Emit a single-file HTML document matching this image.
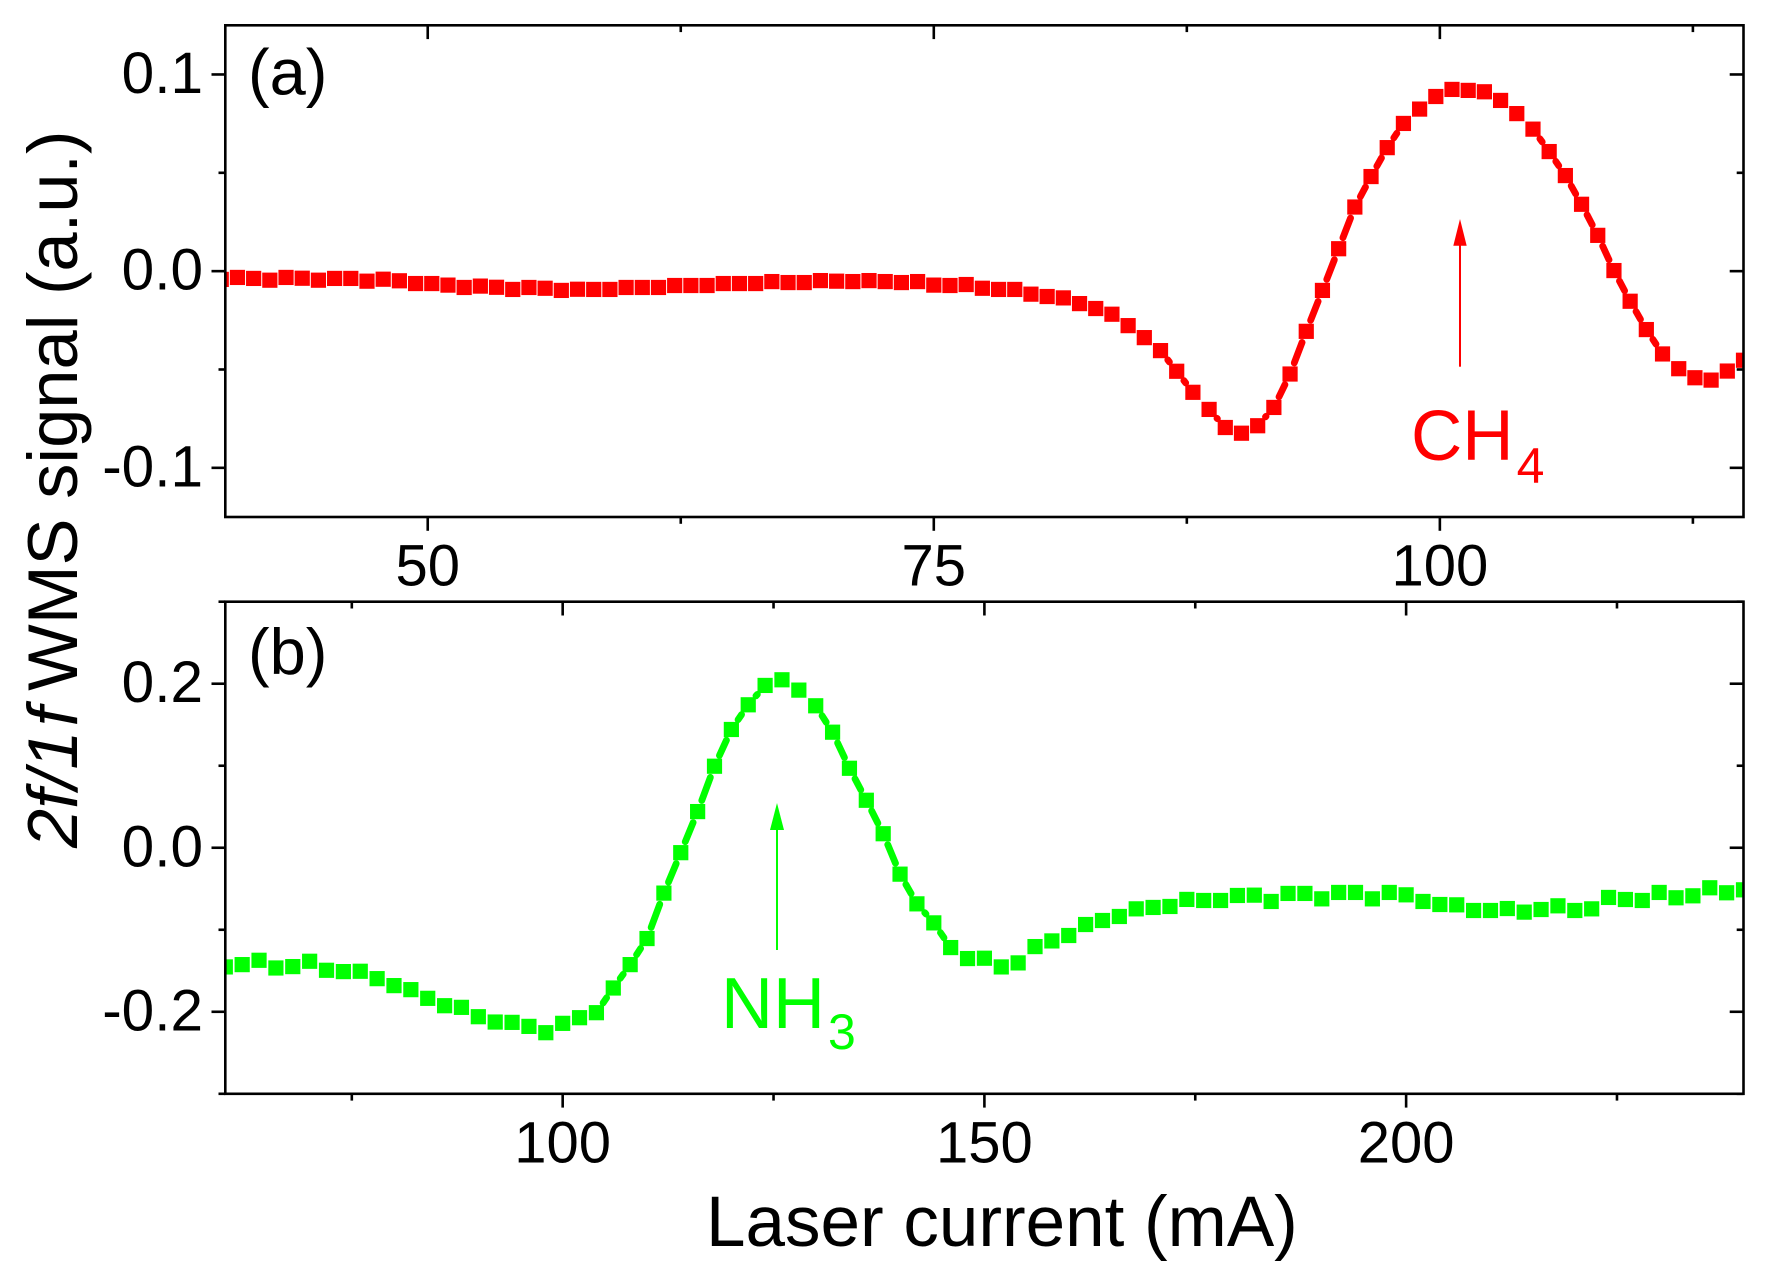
<!DOCTYPE html>
<html>
<head>
<meta charset="utf-8">
<title>2f/1f WMS signal versus laser current</title>
<style>
html,body{margin:0;padding:0;background:#fff;}
svg{display:block;}
text{font-family:"Liberation Sans",sans-serif;fill:#000;}
</style>
</head>
<body>
<svg id="chart" xmlns="http://www.w3.org/2000/svg" width="1768" height="1272" viewBox="0 0 1768 1272">
  <defs>
    <clipPath id="clip-a"><rect x="225.4" y="25.3" width="1518.1" height="491.7"/></clipPath>
    <clipPath id="clip-b"><rect x="225.2" y="601.7" width="1518.3" height="492.1"/></clipPath>
  </defs>
  <rect x="0" y="0" width="1768" height="1272" fill="#fff"/>
  <g id="panel-a"></g>
  <g id="panel-b"></g>

  <text x="248" y="94.7" font-size="65">(a)</text>
  <text x="248" y="674" font-size="65">(b)</text>

  <line x1="1460" y1="366.7" x2="1460" y2="240" stroke="#ff0000" stroke-width="2"/>
  <polygon points="1460,219 1466.7,245.7 1453.3,245.7" fill="#ff0000"/>
  <text x="1411" y="460" font-size="71" style="fill:#ff0000">CH<tspan dx="3" dy="23" font-size="50">4</tspan></text>

  <line x1="777" y1="950" x2="777" y2="825" stroke="#00ff00" stroke-width="2"/>
  <polygon points="777,803 784,830 770,830" fill="#00ff00"/>
  <text x="721" y="1027.8" font-size="72" style="fill:#00ff00">NH<tspan dx="3" dy="21" font-size="50">3</tspan></text>

  <text transform="translate(77 848) rotate(-90)" font-size="70.5"><tspan font-style="italic">2f/1<tspan dx="4">f</tspan></tspan><tspan dx="-3.5"> WMS signal (a.u.)</tspan></text>
  <text x="706" y="1246" font-size="71">Laser current (mA)</text>
</svg>

<script>
const currentA = [39.8,40.6,41.4,42.2,43,43.8,44.6,45.4,46.2,47,47.8,48.6,49.4,50.2,51,51.8,52.6,53.4,54.2,55,55.8,56.6,57.4,58.2,59,59.8,60.6,61.4,62.2,63,63.8,64.6,65.4,66.2,67,67.8,68.6,69.4,70.2,71,71.8,72.6,73.4,74.2,75,75.8,76.6,77.4,78.2,79,79.8,80.6,81.4,82.2,83,83.8,84.6,85.4,86.2,87,87.8,88.6,89.4,90.2,91,91.8,92.6,93.4,94.2,95,95.8,96.6,97.4,98.2,99,99.8,100.6,101.4,102.2,103,103.8,104.6,105.4,106.2,107,107.8,108.6,109.4,110.2,111,111.8,112.6,113.4,114.2,115];
const signalA = [-0.0042,-0.0032,-0.0037,-0.0046,-0.0032,-0.0036,-0.0046,-0.0037,-0.0037,-0.0051,-0.0041,-0.0049,-0.0063,-0.0063,-0.0071,-0.0083,-0.0076,-0.0082,-0.0093,-0.0083,-0.0087,-0.0098,-0.0092,-0.0093,-0.0093,-0.0083,-0.0083,-0.0083,-0.0073,-0.0073,-0.0073,-0.0063,-0.0063,-0.0063,-0.0053,-0.0058,-0.0058,-0.0048,-0.0051,-0.0053,-0.0048,-0.0053,-0.0058,-0.0053,-0.0071,-0.0073,-0.0068,-0.0087,-0.0093,-0.0093,-0.0117,-0.0129,-0.0136,-0.0165,-0.0190,-0.0219,-0.0277,-0.0338,-0.0404,-0.0509,-0.0616,-0.0703,-0.0795,-0.0824,-0.0786,-0.0693,-0.0523,-0.0306,-0.0098,0.0114,0.0326,0.0481,0.0628,0.0751,0.0824,0.0888,0.0924,0.0919,0.0912,0.0868,0.0801,0.0722,0.0608,0.0486,0.0340,0.0182,0.0003,-0.0153,-0.0297,-0.0421,-0.0496,-0.0542,-0.0554,-0.0508,-0.0453];
const currentB = [60,62,64,66,68,70,72,74,76,78,80,82,84,86,88,90,92,94,96,98,100,102,104,106,108,110,112,114,116,118,120,122,124,126,128,130,132,134,136,138,140,142,144,146,148,150,152,154,156,158,160,162,164,166,168,170,172,174,176,178,180,182,184,186,188,190,192,194,196,198,200,202,204,206,208,210,212,214,216,218,220,222,224,226,228,230,232,234,236,238,240];
const signalB = [-0.1453,-0.1425,-0.1372,-0.1466,-0.1449,-0.1384,-0.1494,-0.1510,-0.1506,-0.1596,-0.1681,-0.1730,-0.1836,-0.1926,-0.1946,-0.2060,-0.2125,-0.2129,-0.2178,-0.2255,-0.2141,-0.2072,-0.2011,-0.1710,-0.1425,-0.1107,-0.0553,-0.0060,0.0441,0.0994,0.1442,0.1743,0.1979,0.2048,0.1922,0.1731,0.1409,0.0969,0.0579,0.0171,-0.0322,-0.0684,-0.0916,-0.1217,-0.1351,-0.1347,-0.1453,-0.1404,-0.1205,-0.1136,-0.1070,-0.0936,-0.0887,-0.0838,-0.0745,-0.0728,-0.0716,-0.0630,-0.0643,-0.0643,-0.0582,-0.0578,-0.0655,-0.0557,-0.0557,-0.0623,-0.0545,-0.0545,-0.0623,-0.0545,-0.0574,-0.0655,-0.0692,-0.0696,-0.0765,-0.0765,-0.0741,-0.0785,-0.0753,-0.0708,-0.0765,-0.0745,-0.0606,-0.0631,-0.0643,-0.0545,-0.0610,-0.0586,-0.0488,-0.0549,-0.0513];

const xMajorA = [50,75,100];
const xMinorA = [62.5,87.5,112.5];
const yMajorA = [0.1,0,-0.1];
const yMinorA = [0.05,-0.05];
const xMajorLabelsA = ['50','75','100'];
const yMajorLabelsA = ['0.1','0.0','-0.1'];

const xMajorB = [100,150,200];
const xMinorB = [75,125,175,225];
const yMajorB = [0.2,0,-0.2];
const yMinorB = [0.3,0.1,-0.1,-0.3];
const xMajorLabelsB = ['100','150','200'];
const yMajorLabelsB = ['0.2','0.0','-0.2'];

const NS = 'http://www.w3.org/2000/svg';
const LEFT = 225.3, RIGHT = 1743.5;
const TOP_A = 25.3, BOTTOM_A = 517, TOP_B = 601.7, BOTTOM_B = 1093.8;

function scale(d0, d1, r0, r1) {
  return function (v) { return r0 + (v - d0) / (d1 - d0) * (r1 - r0); };
}
const xA = scale(40, 115, LEFT, RIGHT);
const yA = scale(-0.125, 0.125, BOTTOM_A, TOP_A);
const xB = scale(60, 240, LEFT, RIGHT);
const yB = scale(-0.3, 0.3, BOTTOM_B, TOP_B);

function make(tag, parent) {
  const el = document.createElementNS(NS, tag);
  parent.appendChild(el);
  return el;
}

function tickLine(parent, x1, y1, x2, y2) {
  const t = make('line', parent);
  t.setAttribute('x1', x1);
  t.setAttribute('y1', y1);
  t.setAttribute('x2', x2);
  t.setAttribute('y2', y2);
  t.setAttribute('stroke', '#000');
  t.setAttribute('stroke-width', '2.6');
  
  
}

function drawPanel(group, opt) {
  const MAJOR = 13.8, MINOR = 6.8;

  const series = make('g', group);
  series.setAttribute('clip-path', 'url(#' + opt.clip + ')');
  
  

  const GAP = 11.8;
  for (let i = 0; i + 1 < opt.xs.length; i++) {
    const ax = opt.x(opt.xs[i]), ay = opt.y(opt.ys[i]);
    const bx = opt.x(opt.xs[i + 1]), by = opt.y(opt.ys[i + 1]);
    const d = Math.hypot(bx - ax, by - ay);
    if (d <= 2 * GAP) continue;
    const ux = (bx - ax) / d, uy = (by - ay) / d;
    const seg = make('line', series);
    seg.setAttribute('x1', ax + ux * GAP);
    seg.setAttribute('y1', ay + uy * GAP);
    seg.setAttribute('x2', bx - ux * GAP);
    seg.setAttribute('y2', by - uy * GAP);
    seg.setAttribute('stroke', opt.color);
    seg.setAttribute('stroke-width', '6.8');
    seg.setAttribute('stroke-linecap', 'round');
    
    
  }

  const SIZE = 15.2;
  opt.xs.forEach(function (v, i) {
    const m = make('rect', series);
    m.setAttribute('x', opt.x(v) - SIZE / 2);
    m.setAttribute('y', opt.y(opt.ys[i]) - SIZE / 2);
    m.setAttribute('width', SIZE);
    m.setAttribute('height', SIZE);
    m.setAttribute('fill', opt.color);
    
    
  });

  const frame = make('rect', group);
  frame.setAttribute('x', LEFT);
  frame.setAttribute('y', opt.top);
  frame.setAttribute('width', RIGHT - LEFT);
  frame.setAttribute('height', opt.bottom - opt.top);
  frame.setAttribute('fill', 'none');
  frame.setAttribute('stroke', '#000');
  frame.setAttribute('stroke-width', '2.6');
  
  

  opt.xMajor.forEach(function (v, i) {
    const px = opt.x(v);
    tickLine(group, px, opt.top, px, opt.top + MAJOR);
    tickLine(group, px, opt.bottom, px, opt.bottom + MAJOR);
    const label = make('text', group);
    label.setAttribute('x', px);
    label.setAttribute('y', opt.xLabelY);
    label.setAttribute('font-size', '58');
    label.setAttribute('text-anchor', 'middle');
    
    
    label.textContent = opt.xLabels[i];
  });
  opt.xMinor.forEach(function (v) {
    const px = opt.x(v);
    tickLine(group, px, opt.top, px, opt.top + MINOR);
    tickLine(group, px, opt.bottom, px, opt.bottom + MINOR);
  });
  opt.yMajor.forEach(function (v, i) {
    const py = opt.y(v);
    tickLine(group, LEFT - MAJOR, py, LEFT, py);
    tickLine(group, RIGHT - MAJOR, py, RIGHT, py);
    const label = make('text', group);
    label.setAttribute('x', 203);
    label.setAttribute('y', py + 18.5);
    label.setAttribute('font-size', '58.5');
    label.setAttribute('text-anchor', 'end');
    
    
    label.textContent = opt.yLabels[i];
  });
  opt.yMinor.forEach(function (v) {
    const py = opt.y(v);
    tickLine(group, LEFT - MINOR, py, LEFT, py);
    tickLine(group, RIGHT - MINOR, py, RIGHT, py);
  });
}

drawPanel(document.getElementById('panel-a'), {
  name: 'ch4', clip: 'clip-a', color: '#ff0000',
  xs: currentA, ys: signalA, x: xA, y: yA, top: TOP_A, bottom: BOTTOM_A,
  xMajor: xMajorA, xMinor: xMinorA, yMajor: yMajorA, yMinor: yMinorA,
  xLabels: xMajorLabelsA, yLabels: yMajorLabelsA, xLabelY: 585.7
});
drawPanel(document.getElementById('panel-b'), {
  name: 'nh3', clip: 'clip-b', color: '#00ff00',
  xs: currentB, ys: signalB, x: xB, y: yB, top: TOP_B, bottom: BOTTOM_B,
  xMajor: xMajorB, xMinor: xMinorB, yMajor: yMajorB, yMinor: yMinorB,
  xLabels: xMajorLabelsB, yLabels: yMajorLabelsB, xLabelY: 1162.4
});
</script>
</body>
</html>
